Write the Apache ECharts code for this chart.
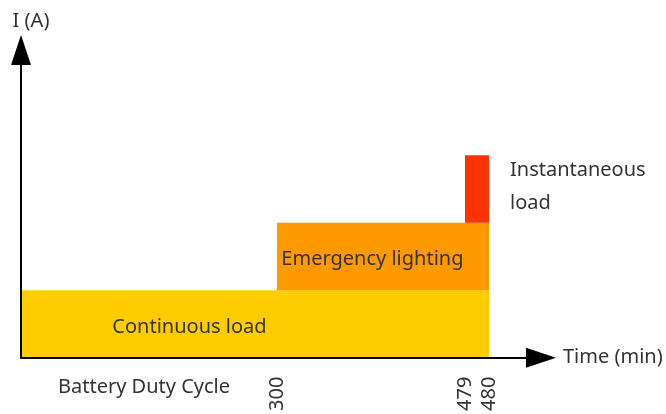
<!DOCTYPE html>
<html>
<head>
<meta charset="utf-8">
<script src="https://cdn.jsdelivr.net/npm/echarts@6/dist/echarts.min.js"></script>
<style>
  html, body { margin: 0; padding: 0; background: #fff; }
  #chart { width: 666px; height: 414px; }
</style>
</head>
<body>
<div id="chart"></div>
<script>
// Minutes marked on the time axis
const timeMarks = [300, 479, 480];
// Load blocks of the duty cycle
const loadNames = ['Continuous load', 'Emergency lighting', 'Instantaneous\nload'];
const loadStart = [0, 300, 479];   // min
const loadEnd = [480, 480, 480];   // min
const loadCurrent = [1, 1, 1];     // stacked current step (schematic, A)

const loadColors = ['#FFCC00', '#FF9900', '#FF3300'];
const textColor = '#333333';
const fontFamily = '"Noto Sans", "Open Sans", sans-serif';

// The time axis is schematic: short intervals are widened so they stay visible.
const warpFrom = [0, 300, 479, 480];
const warpTo = [0, 256, 444, 468];
function warp(t) {
  for (let i = 1; i < warpFrom.length; i++) {
    if (t <= warpFrom[i]) {
      const f = (t - warpFrom[i - 1]) / (warpFrom[i] - warpFrom[i - 1]);
      return warpTo[i - 1] + f * (warpTo[i] - warpTo[i - 1]);
    }
  }
  return warpTo[warpTo.length - 1];
}

// Stack the blocks on top of each other
let level = 0;
const blocks = loadNames.map((name, i) => {
  const base = level;
  level += loadCurrent[i];
  return [loadStart[i], loadEnd[i], base, level, name];
});

const labelPlacement = [
  { position: ['36%', '50%'], align: 'center', offset: [0, 3] },
  { position: ['45%', '50%'], align: 'center', offset: [0, 3] },
  { position: 'right', distance: 21, align: 'left', offset: [0, -2] }
];

const chart = echarts.init(document.getElementById('chart'), null, { renderer: 'canvas' });

chart.setOption({
  animation: false,
  grid: { left: 21, right: 125, top: 50, bottom: 55 },
  xAxis: {
    type: 'value',
    min: 0,
    max: 520,
    z: 5,
    name: 'Time (min)',
    nameLocation: 'end',
    nameGap: 22,
    nameTextStyle: { color: textColor, fontSize: 20, fontFamily: fontFamily, padding: [8, 0, 0, 0] },
    axisLine: {
      show: true,
      symbol: ['none', 'triangle'],
      symbolSize: [20, 30],
      lineStyle: { color: '#000', width: 2 }
    },
    axisTick: { show: false },
    splitLine: { show: false },
    axisLabel: {
      customValues: timeMarks.map(warp),
      rotate: 90,
      margin: 19,
      color: textColor,
      fontSize: 20,
      fontFamily: fontFamily,
      formatter: function (v) {
        const idx = timeMarks.findIndex(t => Math.abs(warp(t) - v) < 1e-6);
        return idx >= 0 ? String(timeMarks[idx]) : '';
      }
    }
  },
  yAxis: {
    type: 'value',
    min: 0,
    max: 4.56,
    z: 5,
    name: 'I (A)',
    nameLocation: 'end',
    nameGap: 19,
    nameTextStyle: { color: textColor, fontSize: 20, fontFamily: fontFamily, align: 'center', padding: [0, 0, 0, 20] },
    axisLine: {
      show: true,
      symbol: ['none', 'triangle'],
      symbolSize: [20, 30],
      lineStyle: { color: '#000', width: 2 }
    },
    axisTick: { show: false },
    axisLabel: { show: false },
    splitLine: { show: false }
  },
  graphic: [{
    type: 'text',
    left: 58,
    top: 377,
    style: { text: 'Battery Duty Cycle', fill: textColor, font: '20px ' + fontFamily }
  }],
  series: [{
    type: 'custom',
    data: blocks,
    encode: { x: [0, 1], y: [2, 3] },
    renderItem: function (params, api) {
      const i = params.dataIndex;
      const p0 = api.coord([warp(api.value(0)), api.value(2)]);
      const p1 = api.coord([warp(api.value(1)), api.value(3)]);
      const lp = labelPlacement[i];
      const textConfig = { position: lp.position };
      if (lp.distance !== undefined) textConfig.distance = lp.distance;
      if (lp.offset !== undefined) textConfig.offset = lp.offset;
      return {
        type: 'rect',
        shape: { x: p0[0], y: p1[1], width: p1[0] - p0[0], height: p0[1] - p1[1] },
        style: { fill: loadColors[i] },
        textContent: {
          style: {
            text: blocks[i][4],
            fill: textColor,
            font: '20px ' + fontFamily,
            lineHeight: 33,
            align: lp.align,
            verticalAlign: 'middle'
          }
        },
        textConfig: textConfig
      };
    }
  }]
});
</script>
</body>
</html>
